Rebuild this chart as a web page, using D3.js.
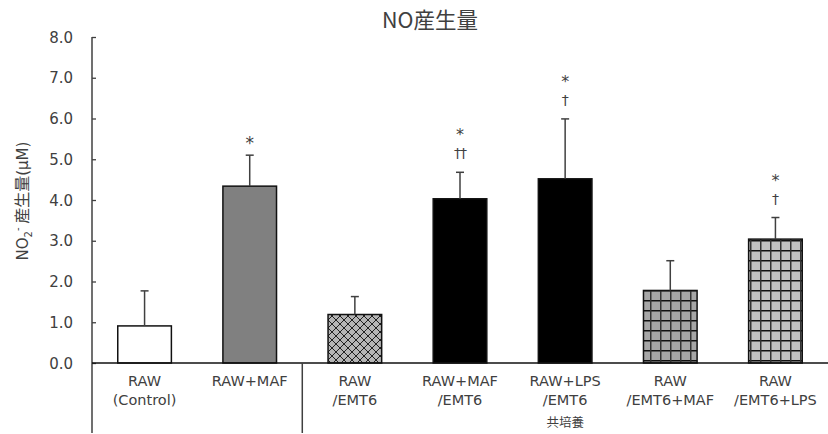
<!DOCTYPE html>
<html><head><meta charset="utf-8">
<script src="https://cdn.jsdelivr.net/npm/d3@7"></script>
<style>body{margin:0;background:#fff}svg{display:block}</style>
</head><body>
<script>
const categories = [
  ["RAW", "(Control)"],
  ["RAW+MAF", ""],
  ["RAW", "/EMT6"],
  ["RAW+MAF", "/EMT6"],
  ["RAW+LPS", "/EMT6"],
  ["RAW", "/EMT6+MAF"],
  ["RAW", "/EMT6+LPS"]
];
const values = [0.91, 4.34, 1.19, 4.03, 4.52, 1.78, 3.04];
const errors = [0.86, 0.76, 0.44, 0.65, 1.47, 0.73, 0.53];
const marks = [[], ["*"], [], ["*", "††"], ["*", "†"], [], ["*", "†"]];
const fills = ["white", "#808080", "url(#diamond)", "black", "black", "url(#gridDark)", "url(#gridLight)"];
const yTicks = [0, 1, 2, 3, 4, 5, 6, 7, 8];
const groupLabel = "共培養";
const groupStart = 2;
const title = "NO産生量";

const W = 828, H = 434;
const font = "'DejaVu Sans', 'Noto Sans CJK JP', sans-serif";
const cjk = "'Noto Sans CJK JP', 'DejaVu Sans', sans-serif";
const txt = "#404040";
const svg = d3.select("body").append("svg").attr("width", W).attr("height", H);

const defs = svg.append("defs");
const pd = defs.append("pattern").attr("id", "diamond").attr("patternUnits", "userSpaceOnUse")
  .attr("width", 8).attr("height", 8);
pd.append("rect").attr("width", 8).attr("height", 8).attr("fill", "#b4b4b4");
pd.append("path").attr("d", "M0,0L8,8M8,0L0,8M-1,7L1,9M7,-1L9,1").attr("stroke", "#202020").attr("stroke-width", 1);
function grid(id, bg, size) {
  const p = defs.append("pattern").attr("id", id).attr("patternUnits", "userSpaceOnUse")
    .attr("width", size).attr("height", size);
  p.append("rect").attr("width", size).attr("height", size).attr("fill", bg);
  p.append("line").attr("x1", 0).attr("x2", size).attr("y1", 0.75).attr("y2", 0.75).attr("stroke", "#111").attr("stroke-width", 1.5);
  p.append("line").attr("x1", 0.75).attr("x2", 0.75).attr("y1", 0).attr("y2", size).attr("stroke", "#333").attr("stroke-width", 1.5);
}
grid("gridDark", "#a6a6a6", 10);
grid("gridLight", "#c2c2c2", 10);

const x0 = 92, x1 = 828, yTop = 37, yBase = 363;
const x = d3.scaleBand().domain(d3.range(categories.length)).range([x0, x1]).padding(0);
const y = d3.scaleLinear().domain([0, 8]).range([yBase, yTop]);
const bw = x.bandwidth() * 0.51;

// title
svg.append("text").attr("x", 430).attr("y", 28).attr("text-anchor", "middle")
  .attr("font-family", cjk).attr("font-size", 21.5).attr("fill", txt).text(title);

// y axis
const yAxis = d3.axisRight(y).tickValues(yTicks).tickSize(4).tickFormat("");
const gy = svg.append("g").attr("transform", `translate(${x0},0)`).call(yAxis);
gy.select(".domain").remove();
gy.selectAll(".tick line").attr("stroke", "#404040").attr("stroke-width", 1.3);
svg.append("line").attr("x1", x0).attr("x2", x0).attr("y1", yTop).attr("y2", 433)
  .attr("stroke", "#404040").attr("stroke-width", 1.5);
svg.selectAll(".ytl").data(yTicks).enter().append("text")
  .attr("x", 73).attr("y", d => y(d) + 5.5).attr("text-anchor", "end")
  .attr("font-family", font).attr("font-size", 15).attr("fill", txt)
  .text(d => d3.format(".1f")(d));

// y label
const yl = svg.append("text").attr("transform", `translate(28,${201}) rotate(-90)`)
  .attr("text-anchor", "middle").attr("font-family", font).attr("font-size", 15).attr("fill", txt);
yl.append("tspan").text("NO");
yl.append("tspan").attr("font-size", 10).attr("dy", 4).text("2");
yl.append("tspan").attr("font-size", 10).attr("dy", -11).text("-");
yl.append("tspan").attr("dy", 7).attr("font-family", cjk).attr("font-size", 16).text(" 産生量");
yl.append("tspan").text("(μM)");

// bars
svg.selectAll(".bar").data(values).enter().append("rect")
  .attr("x", (d, i) => x(i) + x.bandwidth() / 2 - bw / 2)
  .attr("y", d => y(d)).attr("width", bw).attr("height", d => yBase - y(d))
  .attr("fill", (d, i) => fills[i]).attr("stroke", "#111").attr("stroke-width", 1.5);

// error bars
const eg = svg.append("g").attr("stroke", "#404040").attr("stroke-width", 1.5);
values.forEach((v, i) => {
  const cx = x(i) + x.bandwidth() / 2;
  eg.append("line").attr("x1", cx).attr("x2", cx).attr("y1", y(v)).attr("y2", y(v + errors[i]));
  eg.append("line").attr("x1", cx - 4).attr("x2", cx + 4).attr("y1", y(v + errors[i])).attr("y2", y(v + errors[i]));
});

// significance marks
values.forEach((v, i) => {
  const m = marks[i];
  if (!m.length) return;
  const cx = x(i) + x.bandwidth() / 2;
  const top = y(v + errors[i]);
  m.forEach((s, k) => {
    const off = (m.length - k) * 20;
    const single = m.length === 1;
    const by = top - off + (single ? 14 : (s === "*" ? 8 : 6));
    svg.append("text").attr("x", cx).attr("y", by).attr("text-anchor", "middle")
      .attr("font-family", font).attr("fill", txt)
      .attr("font-size", s === "*" ? (single ? 17 : 16) : 14)
      .attr("letter-spacing", s.length > 1 ? -1 : 0).text(s);
  });
});

// x axis baseline
svg.append("line").attr("x1", x0).attr("x2", x1).attr("y1", yBase).attr("y2", yBase)
  .attr("stroke", "#111").attr("stroke-width", 1.5);
// separator
svg.append("line").attr("x1", x(groupStart)).attr("x2", x(groupStart)).attr("y1", yBase).attr("y2", 433)
  .attr("stroke", "#404040").attr("stroke-width", 1.5);

// category labels
categories.forEach((c, i) => {
  const cx = x(i) + x.bandwidth() / 2;
  c.forEach((s, k) => {
    if (!s) return;
    svg.append("text").attr("x", cx).attr("y", 386 + k * 18.5).attr("text-anchor", "middle")
      .attr("font-family", font).attr("font-size", 14.5).attr("fill", txt).text(s);
  });
});
svg.append("text").attr("x", (x(groupStart) + x1) / 2).attr("y", 427).attr("text-anchor", "middle")
  .attr("font-family", cjk).attr("font-size", 12.5).attr("fill", txt).text(groupLabel);
</script>
</body></html>
